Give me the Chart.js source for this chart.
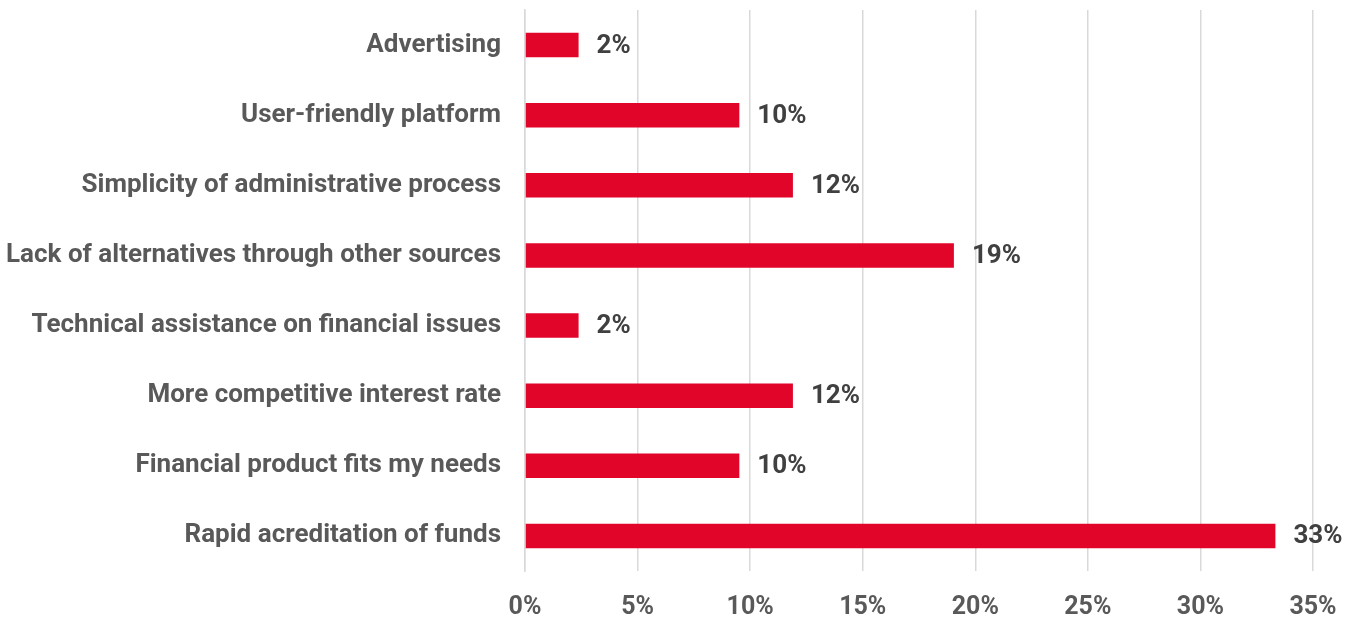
<!DOCTYPE html>
<html>
<head>
<meta charset="utf-8">
<title>Reasons for choosing the platform</title>
<script src="https://cdn.jsdelivr.net/npm/chart.js@4/dist/chart.umd.min.js"></script>
<style>
  html, body { margin: 0; padding: 0; background: #fff; }
  #wrap { width: 1349px; height: 617px; position: relative; }
</style>
</head>
<body>
<div id="wrap"><canvas id="myChart"></canvas></div>
<script>
// alasan memilih platform (persen responden)
const categories = [
  "Advertising",
  "User-friendly platform",
  "Simplicity of administrative process",
  "Lack of alternatives through other sources",
  "Technical assistance on financial issues",
  "More competitive interest rate",
  "Financial product fits my needs",
  "Rapid acreditation of funds"
];
const shares = [2.38, 9.52, 11.90, 19.05, 2.38, 11.90, 9.52, 33.33];
const tickSteps = [0, 5, 10, 15, 20, 25, 30, 35];

const fontFamily = "Roboto, 'Noto Sans', sans-serif";

// tulis nilai di ujung kanan setiap bar
const barLabels = {
  id: 'barLabels',
  afterDatasetsDraw(chart) {
    const ctx = chart.ctx;
    const meta = chart.getDatasetMeta(0);
    ctx.save();
    ctx.font = "bold 26px " + fontFamily;
    ctx.fillStyle = "#404040";
    ctx.textAlign = "left";
    ctx.textBaseline = "middle";
    meta.data.forEach(function(bar, i) {
      ctx.fillText(Math.round(shares[i]) + "%", bar.x + 18, bar.y + 1);
    });
    ctx.restore();
  }
};

const ctx = document.getElementById('myChart').getContext('2d');
const myChart = new Chart(ctx, {
  type: 'bar',
  data: {
    labels: categories,
    datasets: [{
      data: shares,
      backgroundColor: '#E1052A',
      barPercentage: 0.7,
      categoryPercentage: 0.5
    }]
  },
  plugins: [barLabels],
  options: {
    indexAxis: 'y',
    responsive: true,
    maintainAspectRatio: false,
    animation: false,
    layout: { padding: { top: 10, right: 36, left: 0, bottom: 0 } },
    plugins: {
      legend: { display: false },
      tooltip: { enabled: false }
    },
    scales: {
      x: {
        min: 0,
        max: 35,
        afterBuildTicks: function(scale) {
          scale.ticks = tickSteps.map(function(v) { return { value: v }; });
        },
        afterFit: function(scale) {
          scale.height = 46;
          scale.paddingLeft = 0;
          scale.paddingRight = 0;
        },
        grid: { color: '#d9d9d9', lineWidth: 1.5, drawTicks: false },
        border: { display: false },
        ticks: {
          padding: 22,
          color: '#595959',
          font: { family: fontFamily, size: 25, weight: 'bold' },
          callback: function(v) { return v + '%'; }
        }
      },
      y: {
        afterFit: function(scale) {
          scale.width = 525;
          // jangan tambah ruang di atas/bawah untuk label
          scale.paddingTop = 0;
          scale.paddingBottom = 0;
        },
        grid: { display: false, drawTicks: false },
        border: { color: '#d9d9d9', width: 1.5 },
        ticks: {
          padding: 24,
          color: '#595959',
          font: { family: fontFamily, size: 26, weight: 'bold' }
        }
      }
    }
  }
});
</script>
</body>
</html>
